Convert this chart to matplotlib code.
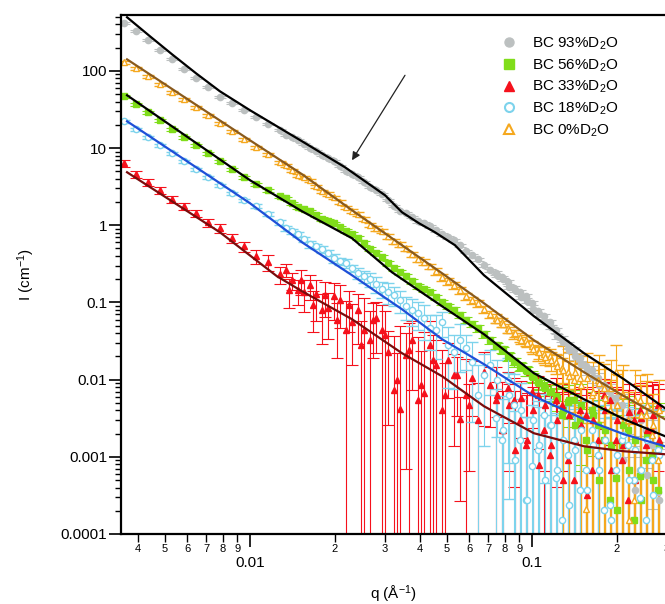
import numpy as np
import matplotlib
matplotlib.use('Agg')
from matplotlib import pyplot as plt
from matplotlib.lines import Line2D
from matplotlib.ticker import LogLocator, FixedLocator, FixedFormatter, NullFormatter

plt.rcParams['font.family'] = ['Liberation Sans', 'DejaVu Sans']
plt.rcParams['mathtext.fontset'] = 'custom'
plt.rcParams['mathtext.rm'] = 'Liberation Sans'
plt.rcParams['mathtext.it'] = 'Liberation Sans:italic'

# q grids of the measured points (1/A)
q = [0.003573, 0.003942, 0.004347, 0.004795, 0.005289, 0.005834, 0.006433, 0.007096, 0.007824,
     0.008633, 0.009522, 0.01050, 0.01158, 0.01277, 0.01409, 0.01554, 0.01714, 0.01890, 0.02085,
     0.02300, 0.02536, 0.02797, 0.03085, 0.03403, 0.03753, 0.04140, 0.04566, 0.05036, 0.05555,
     0.06126, 0.06758, 0.07453, 0.08220, 0.09067, 0.1000, 0.1103, 0.1217, 0.1342, 0.1480,
     0.1633, 0.1800, 0.1986, 0.2190, 0.2415, 0.2664]
q2 = [0.01342, 0.01480, 0.01633, 0.01801, 0.01986, 0.02190, 0.02416, 0.02664, 0.02938, 0.03241,
      0.03574, 0.03942, 0.04348, 0.04795, 0.05289, 0.05833, 0.06433, 0.07095, 0.07825, 0.08630,
      0.09518, 0.1050, 0.1158, 0.1277, 0.1408, 0.1553, 0.1713, 0.1889, 0.2083, 0.2298, 0.2534,
      0.2795]
q3 = [0.07514, 0.07891, 0.08287, 0.08703, 0.09140, 0.09599, 0.1008, 0.1059, 0.1112, 0.1168,
      0.1226, 0.1288, 0.1352, 0.1420, 0.1492, 0.1566, 0.1645, 0.1728, 0.1814, 0.1905, 0.2001,
      0.2101, 0.2207, 0.2318, 0.2434, 0.2556, 0.2684, 0.2819]
q4 = [0.01375, 0.01517, 0.01673, 0.01845, 0.02035, 0.02244, 0.02475, 0.02730, 0.03011, 0.03321,
      0.03662, 0.04039, 0.04455, 0.04913, 0.05419, 0.05976]

# BC 93% D2O
i93 = [414, 326, 249, 185, 141, 105, 80.2, 61.3, 45.5, 38.0, 30.9, 25.1, 20.3, 17.0, 13.8, 11.2,
       9.09, 7.38, 5.81, 4.58, 3.61, 2.84, 2.11, 1.52, 1.27, 1.06, 0.861, 0.699, 0.551, 0.409,
       0.303, 0.239, 0.183, 0.136, 0.0976, 0.0663, 0.0436, 0.0279, 0.0189, 0.0132, 0.00846,
       0.00574, 0.00298, 0.00067, 0.00141]
e93 = [12, 10, 7.5, 5.5, 4.2, 3.2, 2.4, 1.8, 1.4, 1.1, 0.9, 0.75, 0.6, 0.5, 0.41, 0.34, 0.27,
       0.22, 0.18, 0.14, 0.11, 0.09, 0.07, 0.05, 0.045, 0.04, 0.035, 0.03, 0.025, 0.02, 0.016,
       0.013, 0.01, 0.008, 0.006, 0.0045, 0.0035, 0.0028, 0.0022, 0.002, 0.0018, 0.0018, 0.002,
       0.0012, 0.0016]
i93b = [14.65, 12.62, 9.94, 8.07, 6.75, 5.01, 4.18, 3.11, 2.52, 1.76, 1.43, 1.13, 0.971, 0.764,
        0.639, 0.460, 0.363, 0.261, 0.212, 0.153, 0.120, 0.0769, 0.0554, 0.0334, 0.0240, 0.0149,
        0.0104, 0.00687, 0.00466, 0.000498, 0.00221, 0.000348]
e93b = [0.45, 0.38, 0.3, 0.24, 0.2, 0.16, 0.13, 0.1, 0.08, 0.06, 0.05, 0.045, 0.04, 0.033, 0.028,
        0.022, 0.018, 0.014, 0.011, 0.009, 0.007, 0.005, 0.004, 0.003, 0.0025, 0.002, 0.0018,
        0.0018, 0.0018, 0.0012, 0.0015, 0.0012]
i93c = [0.225, 0.200, 0.157, 0.144, 0.117, 0.1036, 0.0816, 0.0704, 0.0554, 0.0477, 0.0365,
        0.0305, 0.0240, 0.0201, 0.0158, 0.0132, 0.0107, 0.00846, 0.00729, 0.00574, 0.00466,
        0.000904, 0.00378, 0.000369, 0.00298, 0.000578, 0.00221, 0.000274]
e93c = [0.009, 0.008, 0.0065, 0.006, 0.005, 0.0045, 0.004, 0.0035, 0.003, 0.0028, 0.0025, 0.0022,
        0.002, 0.0019, 0.0018, 0.0017, 0.0016, 0.0016, 0.0016, 0.0016, 0.0016, 0.0012, 0.0018,
        0.001, 0.002, 0.0012, 0.002, 0.001]

# BC 56% D2O
i56 = [46.9, 36.9, 29.1, 22.9, 17.5, 13.8, 10.9, 8.56, 6.75, 5.31, 4.18, 3.40, 2.84, 2.37, 1.93,
       1.61, 1.35, 1.13, 0.942, 0.764, 0.584, 0.434, 0.322, 0.246, 0.188, 0.148, 0.117, 0.0893,
       0.0683, 0.0522, 0.0387, 0.0279, 0.0201, 0.0149, 0.0111, 0.00821, 0.00610, 0.00510,
       0.00298, 0.00401, 0.00164, 0.000528, 0.00221, 0.000561, 0.00105]
e56 = [1.9, 1.5, 1.2, 0.9, 0.7, 0.55, 0.44, 0.35, 0.28, 0.22, 0.17, 0.15, 0.13, 0.11, 0.09, 0.08,
       0.07, 0.06, 0.05, 0.045, 0.035, 0.027, 0.021, 0.017, 0.014, 0.012, 0.0095, 0.0075, 0.006,
       0.0048, 0.0038, 0.003, 0.0025, 0.002, 0.0018, 0.0016, 0.0016, 0.002, 0.0022, 0.003,
       0.0025, 0.003, 0.004, 0.003, 0.003]
i56b = [2.24, 1.71, 1.52, 1.20, 1.06, 0.836, 0.679, 0.489, 0.385, 0.277, 0.218, 0.162, 0.136,
        0.1006, 0.0793, 0.0588, 0.0463, 0.0324, 0.0248, 0.0168, 0.0132, 0.00925, 0.00687,
        0.00346, 0.00541, 0.00164, 0.00257, 0.000274, 0.00141, 0.000151, 0.000904, 0.000369]
e56b = [0.1, 0.085, 0.075, 0.065, 0.055, 0.048, 0.04, 0.031, 0.024, 0.019, 0.015, 0.013, 0.011,
        0.0085, 0.0068, 0.0054, 0.0043, 0.0034, 0.0028, 0.0022, 0.002, 0.0017, 0.0016, 0.0018,
        0.002, 0.0025, 0.0028, 0.003, 0.003, 0.003, 0.0035, 0.003]
i56c = [0.0271, 0.0240, 0.0201, 0.0173, 0.0149, 0.0128, 0.0107, 0.00898, 0.00774, 0.00687,
        0.00574, 0.00401, 0.00541, 0.00257, 0.00466, 0.00122, 0.00346, 0.000498, 0.00221, 0.00141,
        0.000203, 0.00257, 0.00067, 0.00164, 0.000274, 0.00191, 0.000498, 0.00141]
e56c = [0.0025, 0.0023, 0.002, 0.0018, 0.0017, 0.0016, 0.0016, 0.0016, 0.0016, 0.0017, 0.0018,
        0.004, 0.003, 0.004, 0.004, 0.004, 0.0035, 0.004, 0.004, 0.0035, 0.004, 0.003, 0.004,
        0.0035, 0.004, 0.003, 0.004, 0.0035]

# BC 33% D2O
i33 = [6.35, 4.58, 3.61, 2.84, 2.17, 1.76, 1.43, 1.09, 0.914, 0.679, 0.535, 0.397, 0.332, 0.232,
       0.194, 0.136, 0.128, 0.0841, 0.107, 0.0554, 0.0436, 0.0624, 0.0226, 0.00414, 0.0324,
       0.00667, 0.0154, 0.0178, 0.00307, 0.0104, 0.0125, 0.00541, 0.00774, 0.00298, 0.00687,
       0.00221, 0.00541, 0.000904, 0.00401, 0.00067, 0.00628, 0.00164, 0.000274, 0.00401, 0.00221]
e33 = [0.7, 0.5, 0.4, 0.3, 0.24, 0.2, 0.16, 0.13, 0.11, 0.09, 0.08, 0.08, 0.08, 0.06, 0.05, 0.06,
       0.07, 0.05, 0.06, 0.04, 0.07, 0.04, 0.02, 0.045, 0.025, 0.035, 0.017, 0.012, 0.0028, 0.007,
       0.01, 0.009, 0.005, 0.006, 0.0045, 0.006, 0.005, 0.006, 0.004, 0.006, 0.004, 0.006, 0.007,
       0.005, 0.007]
i33b = [0.261, 0.144, 0.167, 0.0793, 0.120, 0.0436, 0.0793, 0.0324, 0.0436, 0.00729, 0.0207,
        0.00541, 0.0279, 0.00401, 0.0114, 0.00628, 0.00298, 0.00846, 0.00221, 0.00541, 0.00141,
        0.00628, 0.00105, 0.00466, 0.000498, 0.00346, 0.00164, 0.00541, 0.000904, 0.00298,
        0.00141, 0.00466]
e33b = [0.05, 0.05, 0.06, 0.05, 0.06, 0.06, 0.05, 0.045, 0.05, 0.03, 0.02, 0.03, 0.03, 0.02, 0.01,
        0.012, 0.006, 0.006, 0.007, 0.005, 0.005, 0.005, 0.005, 0.004, 0.005, 0.004, 0.005, 0.004,
        0.005, 0.004, 0.005, 0.004]
i33c = [0.00628, 0.00221, 0.00466, 0.00122, 0.00574, 0.00164, 0.00401, 0.000778, 0.00466,
        0.00141, 0.00298, 0.000498, 0.00346, 0.00164, 0.00257, 0.000318, 0.00298, 0.00105,
        0.00401, 0.00067, 0.00298, 0.00141, 0.00378, 0.000498, 0.00316, 0.00221, 0.00346, 0.00164]
e33c = [0.003, 0.005, 0.004, 0.006, 0.004, 0.005, 0.004, 0.006, 0.004, 0.005, 0.004, 0.006, 0.004,
        0.005, 0.005, 0.006, 0.005, 0.006, 0.005, 0.006, 0.005, 0.006, 0.005, 0.006, 0.005, 0.006,
        0.005, 0.006]
i33d = [0.144, 0.194, 0.0920, 0.124, 0.0588, 0.0920, 0.0279, 0.0588, 0.0376, 0.00982, 0.0240,
        0.00846, 0.0178, 0.00628, 0.0114, 0.00466]
e33d = [0.06, 0.07, 0.05, 0.06, 0.04, 0.05, 0.03, 0.04, 0.04, 0.012, 0.03, 0.015, 0.02, 0.01,
        0.008, 0.004]

# BC 18% D2O
i18 = [22.2, 17.5, 13.8, 10.9, 8.56, 6.75, 5.31, 4.18, 3.30, 2.60, 2.11, 1.76, 1.39, 1.09, 0.836,
       0.659, 0.535, 0.434, 0.342, 0.277, 0.218, 0.172, 0.136, 0.107, 0.0793, 0.0624, 0.0436,
       0.0279, 0.0324, 0.0168, 0.0114, 0.00316, 0.00982, 0.00164, 0.000755, 0.00346, 0.000528,
       0.00105, 0.000369, 0.00221, 0.000203, 0.00067, 0.00141, 0.000291, 0.000904]
e18 = [1.1, 0.9, 0.7, 0.55, 0.43, 0.34, 0.27, 0.21, 0.17, 0.13, 0.11, 0.1, 0.08, 0.07, 0.06, 0.05,
       0.045, 0.04, 0.035, 0.03, 0.04, 0.04, 0.04, 0.035, 0.03, 0.03, 0.025, 0.02, 0.02, 0.014,
       0.01, 0.0045, 0.009, 0.004, 0.004, 0.003, 0.003, 0.0035, 0.003, 0.003, 0.003, 0.0035,
       0.003, 0.003, 0.003]
i18b = [0.914, 0.764, 0.567, 0.489, 0.374, 0.322, 0.239, 0.200, 0.148, 0.124, 0.0893, 0.0725,
        0.0463, 0.0554, 0.0226, 0.0255, 0.00628, 0.0154, 0.00164, 0.00466, 0.000274, 0.00122,
        0.00257, 0.000151, 0.00164, 0.00067, 0.00105, 0.000236, 0.00164, 0.000498, 0.000151,
        0.00122]
e18b = [0.065, 0.06, 0.055, 0.05, 0.045, 0.04, 0.04, 0.04, 0.035, 0.035, 0.03, 0.028, 0.022, 0.02,
        0.015, 0.012, 0.009, 0.009, 0.004, 0.007, 0.003, 0.004, 0.004, 0.003, 0.003, 0.003, 0.003,
        0.003, 0.003, 0.003, 0.003, 0.003]
i18c = [0.00982, 0.00221, 0.00628, 0.000904, 0.00401, 0.000274, 0.00298, 0.00141, 0.000498,
        0.00257, 0.00067, 0.00164, 0.000236, 0.00122, 0.00221, 0.000369, 0.00141, 0.00067, 0.00164,
        0.000151, 0.00105, 0.00191, 0.000498, 0.00122, 0.00067, 0.00164, 0.000318, 0.00105]
e18c = [0.008, 0.004, 0.006, 0.003, 0.005, 0.003, 0.004, 0.003, 0.003, 0.003, 0.003, 0.003, 0.003,
        0.003, 0.003, 0.003, 0.003, 0.003, 0.003, 0.003, 0.003, 0.003, 0.003, 0.003, 0.003, 0.003,
        0.003, 0.003]

# BC 0% D2O
i0 = [129, 108, 85.1, 67.1, 52.8, 42.9, 33.8, 26.6, 20.9, 16.5, 13.0, 10.2, 8.31, 6.55, 5.16,
      4.18, 3.20, 2.52, 1.99, 1.52, 1.20, 0.914, 0.720, 0.567, 0.421, 0.332, 0.254, 0.188, 0.144,
      0.107, 0.0816, 0.0624, 0.0463, 0.0354, 0.0271, 0.0213, 0.0168, 0.0125, 0.0104, 0.00628,
      0.00774, 0.0125, 0.00298, 0.00541, 0.00191]
e0 = [5, 4.3, 3.4, 2.7, 2.1, 1.7, 1.35, 1.06, 0.84, 0.66, 0.52, 0.45, 0.37, 0.3, 0.25, 0.21, 0.17,
      0.14, 0.12, 0.1, 0.08, 0.065, 0.055, 0.045, 0.035, 0.03, 0.024, 0.018, 0.015, 0.012, 0.009,
      0.0075, 0.006, 0.005, 0.0045, 0.005, 0.005, 0.005, 0.006, 0.007, 0.008, 0.0155, 0.004,
      0.006, 0.003]
i0b = [5.99, 4.44, 3.83, 2.76, 2.31, 1.71, 1.39, 1.0, 0.836, 0.620, 0.504, 0.363, 0.294, 0.212,
       0.167, 0.120, 0.0976, 0.0704, 0.0554, 0.0387, 0.0324, 0.0226, 0.0201, 0.0140, 0.00982,
       0.000210, 0.00982, 0.00401, 0.00628, 0.000274, 0.00346, 0.000904]
e0b = [0.23, 0.19, 0.16, 0.13, 0.11, 0.09, 0.075, 0.06, 0.05, 0.04, 0.035, 0.03, 0.025, 0.02,
       0.016, 0.013, 0.011, 0.008, 0.007, 0.0055, 0.005, 0.005, 0.005, 0.005, 0.006, 0.0025,
       0.007, 0.006, 0.007, 0.003, 0.006, 0.003]
i0c = [0.0588, 0.0522, 0.0436, 0.0399, 0.0324, 0.0296, 0.0248, 0.0226, 0.0195, 0.0178, 0.0149,
       0.0132, 0.01106, 0.01247, 0.00846, 0.01043, 0.00687, 0.00898, 0.00574, 0.00774, 0.00466,
       0.00628, 0.000151, 0.00541, 0.00346, 0.00466, 0.00257, 0.00401]
e0c = [0.005, 0.0045, 0.004, 0.004, 0.0035, 0.0035, 0.0035, 0.004, 0.004, 0.005, 0.006, 0.014,
       0.012, 0.009, 0.012, 0.012, 0.01, 0.012, 0.008, 0.01, 0.007, 0.009, 0.0025, 0.008, 0.005,
       0.007, 0.004, 0.006]

# model fits
qf93 = [0.003664, 0.004418, 0.005289, 0.006433, 0.00782, 0.0100, 0.01529, 0.02172, 0.03012,
        0.03459, 0.03975, 0.04529, 0.05333, 0.06758, 0.1016, 0.1529, 0.2120, 0.2962]
f93 = [495, 280.6, 164.1, 93.1, 54.4, 30.9, 12.25, 5.64, 2.446, 1.474, 1.061, 0.811, 0.551, 0.225,
       0.0663, 0.0220, 0.0101, 0.00426]
qf0 = [0.003664, 0.0100, 0.01529, 0.02300, 0.03459, 0.04797, 0.06758, 0.1016, 0.1529, 0.2120, 0.2962]
f0 = [141, 12.6, 4.58, 1.564, 0.551, 0.239, 0.0976, 0.0324, 0.01247, 0.0061, 0.00307]
qf56 = [0.003664, 0.0100, 0.01529, 0.02300, 0.03188, 0.04797, 0.06758, 0.1016, 0.1529, 0.2120, 0.2962]
f56 = [48.3, 3.83, 1.518, 0.679, 0.246, 0.0893, 0.0387, 0.0121, 0.00557, 0.00307, 0.00185]
qf18 = [0.003664, 0.0100, 0.01529, 0.02300, 0.03459, 0.04797, 0.06758, 0.1016, 0.1529, 0.2120, 0.2962]
f18 = [22.24, 1.928, 0.602, 0.225, 0.0816, 0.0334, 0.01583, 0.0061, 0.00307, 0.00196, 0.00137]
qf33 = [0.003664, 0.00782, 0.01246, 0.01529, 0.02300, 0.03459, 0.04797, 0.06758, 0.1016, 0.1529,
        0.2120, 0.2962]
f33 = [4.86, 0.811, 0.2185, 0.1397, 0.0606, 0.0220, 0.01107, 0.00452, 0.00202, 0.00137, 0.00118, 0.00108]

labels = ['BC 93%D$_2$O', 'BC 56%D$_2$O', 'BC 33%D$_2$O', 'BC 18%D$_2$O', 'BC 0%D$_2$O']

c93 = '#bcc0c0'
c56 = '#80dd1a'
c33 = '#f5111c'
c18 = '#7dd3ec'
c0 = '#f5a81e'

fig = plt.figure(figsize=(6.65, 6.04), dpi=100)
ax = fig.add_axes([0.182, 0.1159, 0.8203, 0.8593])

ebkw = dict(elinewidth=0.8, capsize=4, capthick=0.8, markersize=4.5, ls='none')


def draw(sets, fmt, col, hollow=False):
    extra = dict(mfc='white', mec=col, mew=1.0) if hollow else {}
    for qq, ii, ee in sets:
        ax.errorbar(qq, ii, yerr=ee, fmt=fmt, color=col, **extra, **ebkw)


draw([(q, i93, e93), (q2, i93b, e93b), (q3, i93c, e93c)], 'o', c93)
draw([(q, i56, e56), (q2, i56b, e56b), (q3, i56c, e56c)], 's', c56)
draw([(q, i33, e33), (q2, i33b, e33b), (q3, i33c, e33c), (q4, i33d, e33d)], '^', c33)
draw([(q, i18, e18), (q2, i18b, e18b), (q3, i18c, e18c)], 'o', c18, hollow=True)
draw([(q, i0, e0), (q2, i0b, e0b), (q3, i0c, e0c)], '^', c0, hollow=True)

ax.plot(qf93, f93, color='black', lw=1.6, zorder=5)
ax.plot(qf0, f0, color='#8a5a1c', lw=1.6, zorder=5)
ax.plot(qf56, f56, color='black', lw=1.6, zorder=5)
ax.plot(qf18, f18, color='#1e4fd8', lw=1.6, zorder=5)
ax.plot(qf33, f33, color='#7a0c0c', lw=1.6, zorder=5)

ax.annotate('', xy=(0.0230, 6.95), xytext=(0.03545, 87.7),
            arrowprops=dict(arrowstyle='-|>', lw=0.9, color='#222222', mutation_scale=12,
                            shrinkA=0, shrinkB=0), zorder=6)

ax.set_xscale('log')
ax.set_yscale('log')
ax.set_xlim(0.003488, 0.30)
ax.set_ylim(1e-4, 530)

ax.yaxis.set_major_locator(FixedLocator([1e-4, 1e-3, 1e-2, 0.1, 1, 10, 100]))
ax.yaxis.set_major_formatter(FixedFormatter(['0.0001', '0.001', '0.01', '0.1', '1', '10', '100']))
ax.yaxis.set_minor_locator(LogLocator(base=10, subs=np.arange(2, 10), numticks=20))
ax.yaxis.set_minor_formatter(NullFormatter())

xmin = [0.004, 0.005, 0.006, 0.007, 0.008, 0.009, 0.02, 0.03, 0.04, 0.05, 0.06, 0.07, 0.08, 0.09,
        0.2, 0.3]
xmin_lab = ['4', '5', '6', '7', '8', '9', '2', '3', '4', '5', '6', '7', '8', '9', '2', '3']
ax.xaxis.set_major_locator(FixedLocator([0.01, 0.1]))
ax.xaxis.set_major_formatter(FixedFormatter(['0.01', '0.1']))
ax.xaxis.set_minor_locator(FixedLocator(xmin))
ax.xaxis.set_minor_formatter(FixedFormatter(xmin_lab))

ax.tick_params(axis='y', which='major', length=8.5, width=1.2, labelsize=11, pad=1.5)
ax.tick_params(axis='y', which='minor', length=4, width=1.0)
ax.tick_params(axis='x', which='major', length=9.5, width=1.2, labelsize=11, pad=6.5)
ax.tick_params(axis='x', which='minor', length=6, width=1.0, labelsize=8, pad=1)

for s in ['left', 'bottom', 'top']:
    ax.spines[s].set_linewidth(1.6)
ax.spines['right'].set_visible(False)

ax.set_ylabel('I (cm$^{-1}$)', fontsize=11, labelpad=17)
ax.set_xlabel('q (\u00c5$^{-1}$)', fontsize=11, labelpad=10)

handles = [
    Line2D([], [], marker='o', ls='none', color=c93, markersize=6.5),
    Line2D([], [], marker='s', ls='none', color=c56, markersize=6.5),
    Line2D([], [], marker='^', ls='none', color=c33, markersize=7),
    Line2D([], [], marker='o', ls='none', mfc='white', mec=c18, mew=1.5, markersize=6.5),
    Line2D([], [], marker='^', ls='none', mfc='white', mec=c0, mew=1.5, markersize=7),
]
ax.legend(handles, labels, loc='upper left', bbox_to_anchor=(0.68, 0.975), frameon=False,
          fontsize=11, handlelength=1.2, handletextpad=0.9, labelspacing=0.35, borderpad=0)

fig.savefig('out.png', dpi=100)
